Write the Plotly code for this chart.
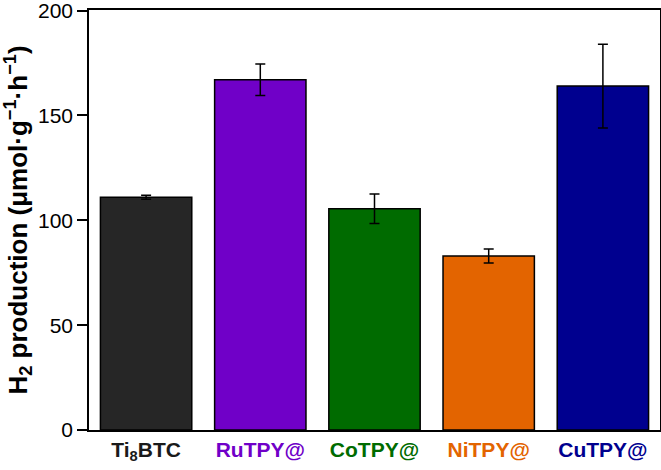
import plotly.graph_objects as go

categories = ["Ti<sub>8</sub>BTC", "RuTPY@", "CoTPY@", "NiTPY@", "CuTPY@"]
values = [111, 167, 105.5, 83, 164]
errors = [1, 7.5, 7, 3.3, 20]
colors = ["#1a1a1a", "#7000c8", "#006b00", "#e36400", "#00008f"]
bar_colors = ["#262626", "#7000c8", "#006b00", "#e36400", "#00008f"]
yticks = [0, 50, 100, 150, 200]

ticktext = [f'<span style="color:{c}"><b>{t}</b></span>' for t, c in zip(categories, colors)]

fig = go.Figure()
fig.add_trace(go.Bar(
    x=list(range(len(categories))), y=values,
    marker=dict(color=bar_colors, line=dict(color="black", width=1.5)),
    width=0.8,
    error_y=dict(type="data", array=errors, visible=True, color="black", thickness=1.5, width=5),
))

fig.update_layout(
    width=661, height=470,
    margin=dict(l=89, r=1, t=10, b=40),
    plot_bgcolor="white", paper_bgcolor="white",
    font=dict(family="Liberation Sans, Arial", size=22, color="black"),
    showlegend=False,
    xaxis=dict(
        range=[-0.5, 4.5], tickvals=list(range(len(categories))), ticktext=ticktext,
        showline=True, linecolor="black", linewidth=1.5, mirror=True, automargin=False,
        ticks="", showgrid=False, tickfont=dict(size=21),
    ),
    yaxis=dict(
        range=[0, 200.3], tickvals=yticks, ticklabeloverflow="allow", automargin=False,
        showline=True, linecolor="black", linewidth=1.5, mirror=True,
        ticks="outside", ticklen=10, tickwidth=1.5, tickcolor="black",
        showgrid=False, zeroline=False, tickfont=dict(size=21),
        title=dict(text="<b>H<sub>2</sub> production (μmol·g<sup>−1</sup>·h<sup>−1</sup>)</b>",
                   font=dict(size=26), standoff=4),
    ),
)

fig.write_html("out.html")
